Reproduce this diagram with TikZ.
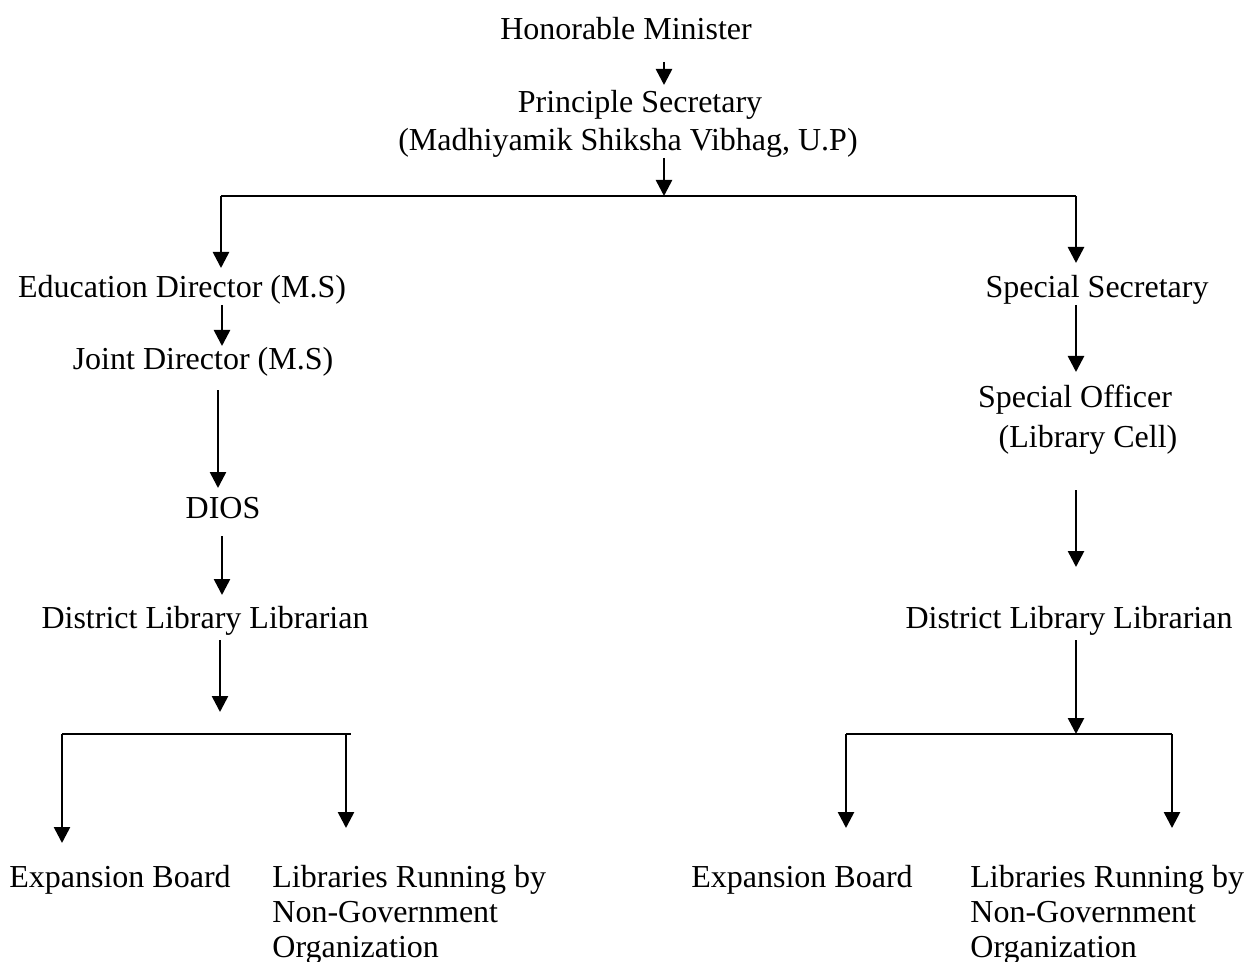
\documentclass[tikz,border=0pt]{standalone}
\usepackage{fontspec}
\setmainfont{Liberation Serif}
\usetikzlibrary{arrows.meta}
\begin{document}
\begin{tikzpicture}[x=0.5pt,y=-0.5pt,
  lbl/.style={inner sep=0pt,anchor=base,font=\fontsize{16}{17.5}\selectfont},
  lblw/.style={inner sep=0pt,anchor=base west,font=\fontsize{16}{17.5}\selectfont},
  arr/.style={line width=1.3pt,-{Triangle[width=8pt,length=8pt]}},
  ln/.style={line width=1pt}]
\useasboundingbox[fill=white] (0,0) rectangle (1246,962);
% nodes
\node[lbl] (hm) at (626,40) {Honorable Minister};
\node[lbl] (ps) at (640,113) {Principle Secretary};
\node[lbl] (psb) at (628,151) {(Madhiyamik Shiksha Vibhag, U.P)};
\node[lbl] (ed) at (182,298) {Education Director (M.S)};
\node[lbl] (jd) at (203,370) {Joint Director (M.S)};
\node[lbl] (dios) at (223,518) {DIOS};
\node[lbl] (dll) at (205,628) {District Library Librarian};
\node[lbl] (eb1) at (120,887) {Expansion Board};
\node[lblw] (lr1) at (272,887) {\begin{tabular}[t]{@{}l@{}}Libraries Running by\\Non-Government\\Organization\end{tabular}};
\node[lbl] (ss) at (1097,298) {Special Secretary};
\node[lbl] (so) at (1075,407) {Special Officer};
\node[lbl] (soc) at (1088,447) {(Library Cell)};
\node[lbl] (dll2) at (1069,628) {District Library Librarian};
\node[lbl] (eb2) at (802,887) {Expansion Board};
\node[lblw] (lr2) at (970,887) {\begin{tabular}[t]{@{}l@{}}Libraries Running by\\Non-Government\\Organization\end{tabular}};
% coordinates
\coordinate (hmB) at (664,62);  \coordinate (psT) at (664,85);
\coordinate (psB) at (664,158); \coordinate (br) at (664,196);
\coordinate (brL) at (221,196); \coordinate (brR) at (1076,196);
\coordinate (edT) at (221,268); \coordinate (ssT) at (1076,263);
\coordinate (edB) at (222,305); \coordinate (jdT) at (222,346);
\coordinate (jdB) at (218,390); \coordinate (diosT) at (218,488);
\coordinate (diosB) at (222,536); \coordinate (dllT) at (222,595);
\coordinate (dllB) at (220,640); \coordinate (lbT) at (220,712);
\coordinate (lbL) at (62,734); \coordinate (lbR) at (351,734); \coordinate (lbD) at (346,734);
\coordinate (eb1T) at (62,843); \coordinate (lr1T) at (346,828);
\coordinate (ssB) at (1076,305); \coordinate (soT) at (1076,372);
\coordinate (socB) at (1076,490); \coordinate (dll2T) at (1076,567);
\coordinate (dll2B) at (1076,640); \coordinate (rb) at (1076,734);
\coordinate (rbL) at (846,734); \coordinate (rbR) at (1172,734);
\coordinate (eb2T) at (846,828); \coordinate (lr2T) at (1172,828);
% connectors
\draw[arr] (hmB) -- (psT);
\draw[arr] (psB) -- (br);
\draw[ln] (brL) -- (brR);
\draw[arr] (brL) -- (edT);
\draw[arr] (brR) -- (ssT);
\draw[arr] (edB) -- (jdT);
\draw[arr] (jdB) -- (diosT);
\draw[arr] (diosB) -- (dllT);
\draw[arr] (dllB) -- (lbT);
\draw[ln] (lbL) -- (lbR);
\draw[arr] (lbL) -- (eb1T);
\draw[arr] (lbD) -- (lr1T);
\draw[arr] (ssB) -- (soT);
\draw[arr] (socB) -- (dll2T);
\draw[arr] (dll2B) -- (rb);
\draw[ln] (rbL) -- (rbR);
\draw[arr] (rbL) -- (eb2T);
\draw[arr] (rbR) -- (lr2T);
\end{tikzpicture}
\end{document}
